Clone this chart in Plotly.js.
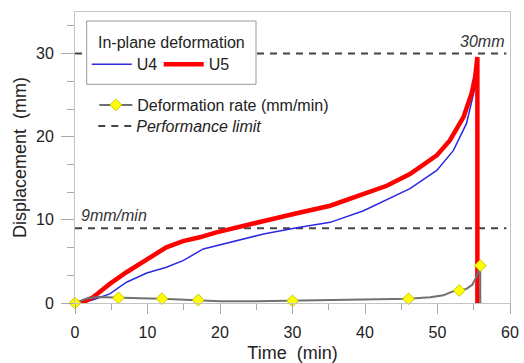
<!DOCTYPE html>
<html>
<head>
<meta charset="utf-8">
<script src="https://cdn.plot.ly/plotly-3.0.1.min.js"></script>
<style>html,body{margin:0;padding:0;background:#fff;}#chart{width:524px;height:363px;}</style>
</head>
<body>
<div id="chart"></div>
<script>
// ---- data ----
const u4Time = [0, 0.9, 2.5, 4.8, 7.1, 9.9, 12.6, 14.9, 17.7, 22.8, 26, 30.6, 35.2, 39.8, 43, 46.2, 49.9, 52.2, 54, 54.9, 55.3, 55.5, 55.5];
const u4Disp = [0, 0, 0.4, 1.1, 2.5, 3.6, 4.3, 5.1, 6.5, 7.6, 8.3, 9.06, 9.7, 11.1, 12.4, 13.75, 15.95, 18.35, 21.6, 24.8, 26.4, 26.7, 0];

const u5Time = [0, 0.9, 2.5, 4.8, 7.1, 9.9, 12.6, 14.9, 17.2, 19.5, 22.8, 26, 30.6, 35.2, 39.8, 43, 46.2, 49.9, 51.7, 53.6, 54.7, 55.2, 55.5, 55.5];
const u5Disp = [0, 0, 0.7, 2.3, 3.7, 5.3, 6.7, 7.45, 7.9, 8.5, 9.2, 9.9, 10.8, 11.7, 13.1, 14.1, 15.5, 17.75, 19.55, 22.4, 25.2, 27.2, 29.6, 0];

const rateTime = [0, 1.5, 3, 6, 9, 12, 14.5, 17, 20, 25, 30, 35, 40, 46, 49, 50.8, 51.7, 52.2, 53, 54, 54.8, 55.4, 55.9, 55.9];
const rateVal  = [0, 0.5, 0.72, 0.62, 0.58, 0.52, 0.45, 0.35, 0.22, 0.2, 0.25, 0.3, 0.38, 0.5, 0.7, 0.92, 1.25, 1.42, 1.5, 1.7, 2.2, 3.2, 4.5, 0];

const rateMarkTime = [0, 6, 12, 17, 30, 46, 53, 55.9];
const rateMarkVal  = [0, 0.62, 0.52, 0.35, 0.25, 0.5, 1.5, 4.5];

const limitValues = [30, 9];
const limitSpan = [0, 59.5];
const limitLabels = ['<i>30mm</i>', '<i>9mm/min</i>'];

const xTicks = [0, 10, 20, 30, 40, 50, 60];
const yTicks = [0, 10, 20, 30];

const legendTitle = 'In-plane deformation';

// ---- build traces ----
const limX = [], limY = [];
limitValues.forEach((v, i) => {
  if (i > 0) { limX.push(null); limY.push(null); }
  limX.push(limitSpan[0], limitSpan[1]);
  limY.push(v, v);
});

const FONT = 'Liberation Sans, Arial, Helvetica, sans-serif';
const TXT = '#222';
const MARK = {symbol: 'diamond', size: 9, color: '#ffff00', line: {color: '#c8c800', width: 1}};

const traces = [
  {x: limX, y: limY, mode: 'lines', name: '<i>Performance limit</i>', legend: 'legend3',
   line: {color: '#444', width: 2, dash: '7px,6px'}, hoverinfo: 'skip'},
  {x: u4Time, y: u4Disp, mode: 'lines', name: 'U4', legend: 'legend', legendrank: 1,
   line: {color: '#2a2ae0', width: 1.5}, cliponaxis: false},
  {x: u5Time, y: u5Disp, mode: 'lines', name: 'U5', legend: 'legend', legendrank: 2,
   line: {color: '#ff0000', width: 4.5}, cliponaxis: false},
  {x: rateTime, y: rateVal, mode: 'lines', name: 'rate', showlegend: false,
   line: {color: '#707070', width: 2}, cliponaxis: false},
  {x: rateMarkTime, y: rateMarkVal, mode: 'markers', name: 'rate markers', showlegend: false,
   marker: MARK, cliponaxis: false},
  {x: [null], y: [null], mode: 'lines+markers', name: 'Deformation rate (mm/min)', legend: 'legend2',
   line: {color: '#707070', width: 2}, marker: MARK}
];

const annotations = [
  {x: limitSpan[1], y: limitValues[0] + 1.4, xref: 'x', yref: 'y', text: limitLabels[0], showarrow: false,
   xanchor: 'right', yanchor: 'middle', font: {family: FONT, size: 16, color: '#333'}},
  {x: 0.6, y: limitValues[1] + 1.5, xref: 'x', yref: 'y', text: limitLabels[1], showarrow: false,
   xanchor: 'left', yanchor: 'middle', font: {family: FONT, size: 16, color: '#333'}},
  {x: 0.2218, y: 0.8959, xref: 'paper', yref: 'paper', text: legendTitle, showarrow: false,
   xanchor: 'center', yanchor: 'middle', font: {family: FONT, size: 16, color: TXT}}
];

const shapes = [
  {type: 'rect', xref: 'paper', yref: 'paper', x0: 0.0269, x1: 0.4161, y0: 0.7515, y1: 0.969,
   fillcolor: '#fff', line: {color: '#999', width: 1}, layer: 'above'}
];

const layout = {
  width: 524, height: 363,
  margin: {l: 75, r: 14, t: 12, b: 60},
  paper_bgcolor: '#fff', plot_bgcolor: '#fff',
  font: {family: FONT, size: 16, color: TXT},
  xaxis: {
    range: [0, 60], tickvals: xTicks, ticktext: xTicks.map(String),
    ticks: 'outside', ticklen: 10, tickcolor: '#aaa', tickwidth: 1, ticklabelstandoff: 5,
    minor: {dtick: 5, ticks: 'outside', ticklen: 6, tickcolor: '#aaa', showgrid: false},
    showline: true, linecolor: '#c4c4c4', linewidth: 1, mirror: true,
    showgrid: false, zeroline: false,
    tickfont: {family: FONT, size: 16, color: TXT},
    title: {text: 'Time \u00a0(min)', font: {family: FONT, size: 18, color: TXT}, standoff: 6}
  },
  yaxis: {
    range: [0, 35], tickvals: yTicks, ticktext: yTicks.map(String),
    ticks: 'outside', ticklen: 13, tickcolor: '#aaa', tickwidth: 1, ticklabelstandoff: 4,
    minor: {dtick: 10 / 3, tick0: 0, ticks: 'outside', ticklen: 7, tickcolor: '#aaa', showgrid: false},
    showline: true, linecolor: '#c4c4c4', linewidth: 1, mirror: true,
    showgrid: false, zeroline: false,
    tickfont: {family: FONT, size: 16, color: TXT},
    title: {text: 'Displacement \u00a0(mm)', font: {family: FONT, size: 18, color: TXT}, standoff: 4}
  },
  legend: {
    x: 0.027, y: 0.8203, xanchor: 'left', yanchor: 'middle',
    orientation: 'h', bgcolor: 'rgba(0,0,0,0)', borderwidth: 0,
    itemwidth: 40, entrywidth: 17,
    font: {family: FONT, size: 16, color: TXT}
  },
  legend2: {
    x: 0.0444, y: 0.6804, xanchor: 'left', yanchor: 'middle',
    orientation: 'v', bgcolor: 'rgba(0,0,0,0)', borderwidth: 0, itemwidth: 33,
    font: {family: FONT, size: 16, color: TXT}
  },
  legend3: {
    x: 0.042, y: 0.608, xanchor: 'left', yanchor: 'middle',
    orientation: 'v', bgcolor: 'rgba(0,0,0,0)', borderwidth: 0, itemwidth: 33,
    font: {family: FONT, size: 16, color: TXT}
  },
  annotations: annotations,
  shapes: shapes,
  showlegend: true
};

Plotly.newPlot('chart', traces, layout, {displayModeBar: false, staticPlot: true});
</script>
</body>
</html>
